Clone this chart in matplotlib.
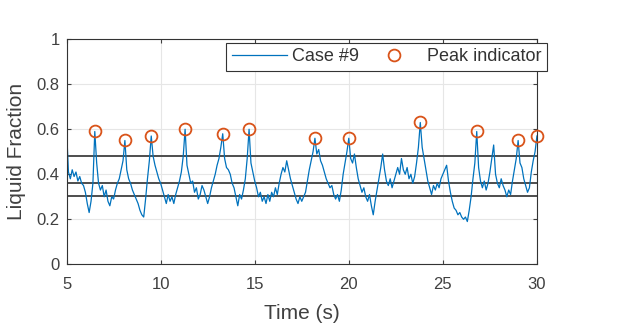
import numpy as np
import matplotlib.pyplot as plt

plt.rcParams['font.family'] = ['Liberation Sans', 'DejaVu Sans']

# time axis, 0.1 s steps from 5 to 30 s
t = np.round(np.arange(5.0, 30.01, 0.1), 2)

# liquid fraction (one row = one second)
lf = [
    0.60, 0.41, 0.38, 0.42, 0.39, 0.41, 0.37, 0.39, 0.36, 0.35,
    0.32, 0.27, 0.23, 0.28, 0.36, 0.59, 0.45, 0.36, 0.33, 0.35,
    0.30, 0.33, 0.28, 0.26, 0.30, 0.29, 0.33, 0.36, 0.38, 0.42,
    0.46, 0.55, 0.42, 0.38, 0.36, 0.33, 0.31, 0.29, 0.27, 0.24,
    0.22, 0.21, 0.29, 0.38, 0.46, 0.57, 0.48, 0.44, 0.41, 0.38,
    0.36, 0.33, 0.30, 0.27, 0.31, 0.28, 0.30, 0.27, 0.31, 0.34,
    0.37, 0.41, 0.48, 0.60, 0.44, 0.40, 0.36, 0.37, 0.32, 0.34,
    0.29, 0.31, 0.35, 0.33, 0.30, 0.27, 0.30, 0.34, 0.37, 0.40,
    0.44, 0.47, 0.52, 0.58, 0.47, 0.43, 0.42, 0.40, 0.36, 0.34,
    0.30, 0.26, 0.31, 0.29, 0.33, 0.38, 0.47, 0.60, 0.45, 0.41,
    0.37, 0.34, 0.30, 0.32, 0.28, 0.30, 0.27, 0.31, 0.28, 0.32,
    0.30, 0.34, 0.31, 0.36, 0.40, 0.43, 0.41, 0.46, 0.42, 0.38,
    0.35, 0.32, 0.29, 0.27, 0.30, 0.28, 0.30, 0.32, 0.37, 0.42,
    0.46, 0.50, 0.56, 0.49, 0.51, 0.46, 0.44, 0.41, 0.38, 0.36,
    0.34, 0.35, 0.31, 0.29, 0.31, 0.28, 0.33, 0.40, 0.45, 0.50,
    0.56, 0.47, 0.45, 0.49, 0.43, 0.38, 0.35, 0.32, 0.34, 0.30,
    0.28, 0.31, 0.26, 0.22, 0.28, 0.33, 0.38, 0.43, 0.49, 0.42,
    0.37, 0.35, 0.38, 0.34, 0.37, 0.40, 0.43, 0.40, 0.47, 0.42,
    0.40, 0.43, 0.38, 0.40, 0.36, 0.39, 0.45, 0.52, 0.63, 0.52,
    0.47, 0.42, 0.37, 0.34, 0.31, 0.35, 0.33, 0.36, 0.34, 0.38,
    0.40, 0.42, 0.44, 0.37, 0.32, 0.28, 0.25, 0.24, 0.22, 0.23,
    0.21, 0.20, 0.21, 0.19, 0.24, 0.30, 0.38, 0.45, 0.59, 0.43,
    0.37, 0.34, 0.37, 0.33, 0.36, 0.41, 0.47, 0.53, 0.40, 0.36,
    0.34, 0.38, 0.35, 0.33, 0.30, 0.33, 0.31, 0.37, 0.42, 0.47,
    0.55, 0.45, 0.43, 0.38, 0.35, 0.32, 0.34, 0.41, 0.46, 0.50,
    0.57,
]

peak_t = [6.5, 8.1, 9.5, 11.3, 13.3, 14.7, 18.2, 20.0, 23.8, 26.8, 29.0, 30.0]
peak_y = [0.59, 0.55, 0.57, 0.60, 0.58, 0.60, 0.56, 0.56, 0.63, 0.59, 0.55, 0.57]

# reference levels
levels = [0.48, 0.36, 0.305]

fig = plt.figure(figsize=(6.28, 3.35), dpi=100)
ax = fig.add_axes([0.106, 0.211, 0.749, 0.672])

for lv in levels:
    ax.axhline(lv, color='0.3', lw=1.4, zorder=1)

ax.plot(t, lf, color='#0072BD', lw=0.9, label='Case #9', zorder=2)
ax.plot(peak_t, peak_y, 'o', mfc='none', mec='#D95319', mew=1.3, ms=8.5,
        label='Peak indicator', clip_on=False, zorder=3)

ax.set_xlim(5, 30)
ax.set_ylim(0, 1)
ax.set_xticks([5, 10, 15, 20, 25, 30])
ax.set_yticks([0, 0.2, 0.4, 0.6, 0.8, 1])
ax.set_yticklabels(['0', '0.2', '0.4', '0.6', '0.8', '1'])
ax.grid(True, color='0.9', lw=0.8)
ax.set_axisbelow(True)
ax.tick_params(direction='in', length=3, labelsize=12, colors='0.25',
               top=True, right=True)
ax.tick_params(axis='x', pad=9)
ax.tick_params(axis='y', pad=5)
for s in ax.spines.values():
    s.set_color('0.2')
    s.set_linewidth(0.8)

ax.set_xlabel('Time (s)', fontsize=15, color='0.25')
ax.set_ylabel('Liquid Fraction', fontsize=15, color='0.25')
ax.xaxis.set_label_coords(0.5, -0.175)
ax.yaxis.set_label_coords(-0.087, 0.5)

leg = ax.legend(loc='upper right', bbox_to_anchor=(1.021, 0.983),
                borderaxespad=0, ncol=2, fontsize=13, handlelength=3.05,
                frameon=True, fancybox=False, borderpad=0.3,
                columnspacing=0.4, handletextpad=0.3, labelcolor='0.2')
leg.get_frame().set_edgecolor('0.2')
leg.get_frame().set_linewidth(0.8)
leg.get_frame().set_alpha(1)

fig.savefig('out.png', dpi=100)
